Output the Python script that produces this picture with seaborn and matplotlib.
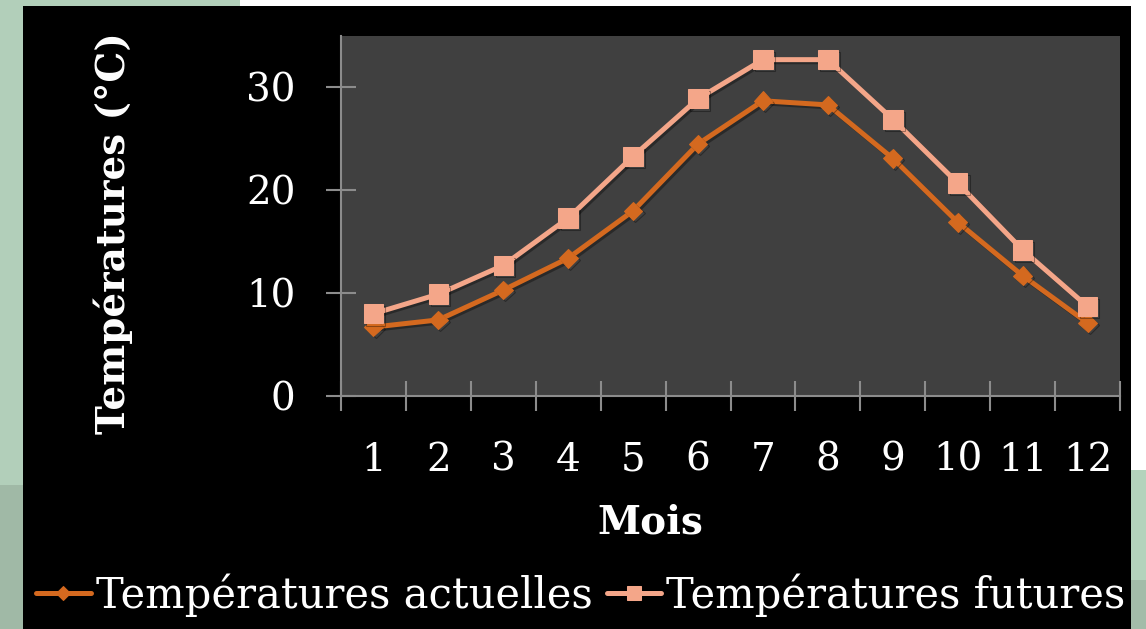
import matplotlib
matplotlib.use("Agg")
import matplotlib.pyplot as plt
import matplotlib.patheffects as pe
from matplotlib.patches import Rectangle
import numpy as np
import pandas as pd
import seaborn as sns

# Monthly temperatures (°C)
mois = list(range(1, 13))
temp_actuelles = [6.7, 7.4, 10.3, 13.4, 18.0, 24.5, 28.7, 28.3, 23.1, 16.9, 11.7, 7.1]
temp_futures = [8.0, 9.9, 12.7, 17.3, 23.3, 28.9, 32.7, 32.7, 26.9, 20.7, 14.2, 8.7]
y_ticks = [0, 10, 20, 30]

serie_actuelle = "Températures actuelles"
serie_future = "Températures futures"

df = pd.DataFrame({
    "Mois": mois * 2,
    "Température": temp_actuelles + temp_futures,
    "Série": [serie_actuelle] * 12 + [serie_future] * 12,
})

sns.set_theme(style="dark")
plt.rcParams["font.family"] = ["DejaVu Serif", "Liberation Serif"]
FS = 28
FS_LEG = 30

W, H = 1146, 629
fig = plt.figure(figsize=(W / 100, H / 100), dpi=100)
fig.patch.set_facecolor("white")

# slide background around the black chart area
def px_rect(x0, y0, x1, y1, color, z=0):
    fig.patches.append(Rectangle((x0 / W, 1 - y1 / H), (x1 - x0) / W, (y1 - y0) / H,
                                 transform=fig.transFigure, facecolor=color,
                                 edgecolor="none", zorder=z))

px_rect(0, 0, 23, 485, "#b2cfba")
px_rect(0, 485, 23, 629, "#a0b9a6")
px_rect(0, 0, 240, 6, "#b2cfba")
px_rect(1131, 470, W, 580, "#b4d3bc")
px_rect(1131, 580, W, 629, "#a3bca9")
px_rect(23, 6, 1131, 629, "black", z=1)

ax = fig.add_axes([341 / W, 1 - 396 / H, 779 / W, 360 / H])
ax.set_zorder(2)
ax.set_facecolor("#404040")

palette = {serie_actuelle: "#d4691f", serie_future: "#f4a689"}
markers = {serie_actuelle: "D", serie_future: "s"}
msize = {serie_actuelle: 9.5, serie_future: 14}
sns.lineplot(data=df, x="Mois", y="Température", hue="Série", style="Série",
             palette=palette, markers=markers, dashes=False, linewidth=3.6,
             ax=ax, legend=True)

shadow = [pe.SimpleLineShadow(offset=(1.5, -1.5), shadow_color="black", alpha=0.35),
          pe.Normal()]
for line, s in zip(ax.lines[:2], [serie_actuelle, serie_future]):
    c = palette[s]
    line.set_path_effects(shadow)
    line.set_markerfacecolor(c)
    line.set_markeredgecolor(c)
    line.set_markersize(msize[s])

ax.set_xlim(0.5, 12.5)
ax.set_ylim(0, 35)

gray = "#8c8c8c"
ax.set_xticks(np.arange(0.5, 13, 1))
ax.set_xticklabels([])
ax.set_xticks(mois, minor=True)
ax.set_xticklabels([str(m) for m in mois], minor=True)
ax.set_yticks(y_ticks)
ax.set_yticklabels([str(v) for v in y_ticks])

ax.tick_params(axis="both", which="major", direction="inout", length=21.6,
               width=1.5, color=gray, labelsize=FS, labelcolor="white", pad=22,
               bottom=True, left=True)
ax.tick_params(axis="x", which="minor", length=0, labelsize=FS,
               labelcolor="white", pad=33, bottom=True)
ax.tick_params(axis="x", which="major", pad=0)

for side in ["top", "right"]:
    ax.spines[side].set_visible(False)
for side in ["left", "bottom"]:
    ax.spines[side].set_visible(True)
    ax.spines[side].set_color(gray)
    ax.spines[side].set_linewidth(1.5)
ax.grid(False)

ax.set_xlabel("Mois", fontsize=FS, fontweight="bold", color="white", va="center")
ax.xaxis.set_label_coords((650 - 341) / 779, (396 - 522) / 360)
ax.set_ylabel("Températures (°C)", fontsize=FS, fontweight="bold", color="white",
              va="center")
ax.yaxis.set_label_coords((113 - 341) / 779, (396 - 233) / 360)

handles, labels = ax.get_legend_handles_labels()
ax.get_legend().remove()
for h, s in zip(handles, labels):
    h.set_linewidth(3.6)
    h.set_markersize(msize[s] * 0.75)
    h.set_markerfacecolor(palette[s])
    h.set_markeredgecolor(palette[s])
leg = fig.legend(handles, labels, loc="center", ncol=2,
                 bbox_to_anchor=(581 / W, 1 - 595 / H), frameon=False,
                 fontsize=FS_LEG, labelcolor="white", handlelength=1.3,
                 handletextpad=0.12, columnspacing=0.36, borderpad=0)

fig.savefig("out.png", dpi=100, facecolor=fig.get_facecolor())
